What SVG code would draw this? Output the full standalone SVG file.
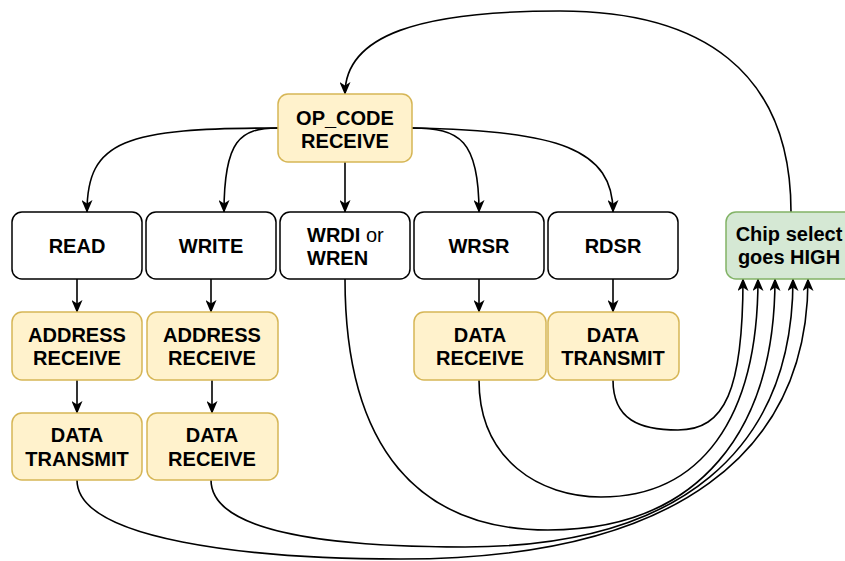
<svg xmlns="http://www.w3.org/2000/svg" width="845" height="561" viewBox="0 0 845 561">
<defs>
<marker id="arr" markerUnits="userSpaceOnUse" markerWidth="13" markerHeight="11" refX="12" refY="5.5" orient="auto">
<path d="M0,0 L13,5.5 L0,11 L3.5,5.5 z" fill="#000"/>
</marker>
<style>
.w{fill:#fff;stroke:#000;stroke-width:1.5}
.y{fill:#fff2cc;stroke:#d6b656;stroke-width:1.5}
.g{fill:#d5e8d4;stroke:#82b366;stroke-width:1.5}
text{font-family:"Liberation Sans",Arial,sans-serif;font-size:20px;font-weight:bold;fill:#000;text-anchor:middle}
.e{fill:none;stroke:#000;stroke-width:1.6;marker-end:url(#arr)}
</style>
</defs>
<rect width="845" height="561" fill="#fff"/>
<g id="connectors">
<path class="e" d="M791,212 C791,70 700,11 560,11 C420,11 345,35 345,94"/>
<path class="e" d="M278,128 C125,128 87,140 87,212"/>
<path class="e" d="M278,128 C240,128 224,140 224,212"/>
<path class="e" d="M345,162 L345,212"/>
<path class="e" d="M412,128 C460,128 479,140 479,212"/>
<path class="e" d="M412,128 C560,130 613,150 613,212"/>
<path class="e" d="M77,279 L77,312"/>
<path class="e" d="M211,279 L211,312"/>
<path class="e" d="M479,279 L479,312"/>
<path class="e" d="M613,279 L613,312"/>
<path class="e" d="M77,380 L77,413"/>
<path class="e" d="M212,380 L212,413"/>
<path class="e" d="M613,380 C613,420 640,430 678,430 C725,430 743,390 743,279"/>
<path class="e" d="M479,380 C479,460 540,497 601,497 C700,497 758,420 758,279"/>
<path class="e" d="M345,279 C345,450 420,530 548,530 C700,530 775,430 775,279"/>
<path class="e" d="M211,480 C211,530 320,547 465,547 C680,547 793,450 793,279"/>
<path class="e" d="M77,480 C77,540 250,559 401,559 C680,559 808,450 808,279"/>
</g>
<g id="opcode"><rect class="y" x="278" y="94" width="134" height="68" rx="10"/><text x="345" y="125">OP_CODE</text><text x="345" y="148">RECEIVE</text></g>
<g id="read"><rect class="w" x="12" y="212" width="130" height="67" rx="10"/><text x="77" y="253">READ</text></g>
<g id="write"><rect class="w" x="146" y="212" width="130" height="67" rx="10"/><text x="211" y="253">WRITE</text></g>
<g id="wrdi"><rect class="w" x="280" y="212" width="130" height="67" rx="10"/><text x="307" y="242" style="text-anchor:start">WRDI <tspan style="font-weight:normal">or</tspan></text><text x="307" y="265" style="text-anchor:start">WREN</text></g>
<g id="wrsr"><rect class="w" x="414" y="212" width="130" height="67" rx="10"/><text x="479" y="253">WRSR</text></g>
<g id="rdsr"><rect class="w" x="548" y="212" width="130" height="67" rx="10"/><text x="613" y="253">RDSR</text></g>
<g id="chipselect"><rect class="g" x="726" y="212" width="132" height="67" rx="10"/><text x="789" y="241">Chip select</text><text x="789" y="264">goes HIGH</text></g>
<g id="addr1"><rect class="y" x="12" y="312" width="130" height="68" rx="10"/><text x="77" y="342">ADDRESS</text><text x="77" y="365">RECEIVE</text></g>
<g id="addr2"><rect class="y" x="147" y="312" width="131" height="68" rx="10"/><text x="212" y="342">ADDRESS</text><text x="212" y="365">RECEIVE</text></g>
<g id="datarecv1"><rect class="y" x="414" y="312" width="132" height="68" rx="10"/><text x="480" y="342">DATA</text><text x="480" y="365">RECEIVE</text></g>
<g id="datatx1"><rect class="y" x="548" y="312" width="131" height="68" rx="10"/><text x="613" y="342">DATA</text><text x="613" y="365">TRANSMIT</text></g>
<g id="datatx2"><rect class="y" x="12" y="413" width="130" height="67" rx="10"/><text x="77" y="442">DATA</text><text x="77" y="466">TRANSMIT</text></g>
<g id="datarecv2"><rect class="y" x="147" y="413" width="131" height="67" rx="10"/><text x="212" y="442">DATA</text><text x="212" y="466">RECEIVE</text></g>
</svg>
